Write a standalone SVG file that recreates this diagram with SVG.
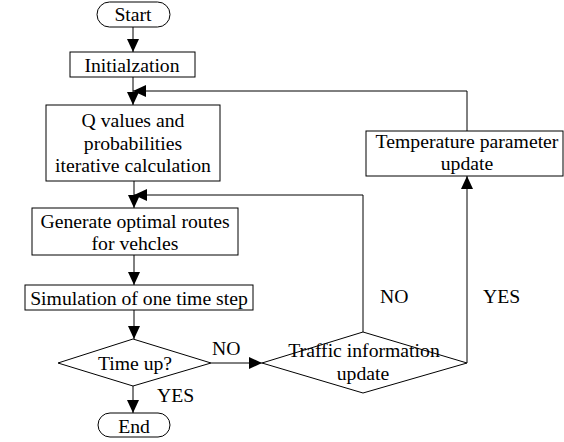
<svg xmlns="http://www.w3.org/2000/svg" width="564" height="442" viewBox="0 0 564 442">
  <style>
    .box { fill: #fff; stroke: #000; stroke-width: 1; }
    .link { fill: none; stroke: #000; stroke-width: 1; }
    text { font-family: 'Liberation Serif', 'Times New Roman', serif; font-size: 19.7px; fill: #000; text-anchor: middle; }
    text.lbl { text-anchor: start; }
  </style>
  <defs>
    <marker id="arrow" viewBox="0 0 13 12" refX="13" refY="6" markerWidth="13" markerHeight="12" markerUnits="userSpaceOnUse" orient="auto">
      <path d="M0,0 L13,6 L0,12 Z" fill="#000"/>
    </marker>
  </defs>
  <rect width="564" height="442" fill="#fff"/>

  <!-- flow lines -->
  <g id="connectors">
    <line class="link" x1="133" y1="27" x2="133" y2="52" marker-end="url(#arrow)"/>
    <line class="link" x1="133" y1="77" x2="133" y2="105" marker-end="url(#arrow)"/>
    <line class="link" x1="134" y1="181" x2="134" y2="208" marker-end="url(#arrow)"/>
    <line class="link" x1="134" y1="255" x2="134" y2="285" marker-end="url(#arrow)"/>
    <line class="link" x1="134" y1="310" x2="134" y2="339" marker-end="url(#arrow)"/>
    <line class="link" x1="133" y1="386" x2="133" y2="413" marker-end="url(#arrow)"/>
    <line class="link" x1="211" y1="363" x2="262" y2="363" marker-end="url(#arrow)"/>
    <path class="link" d="M363,332 V195 H134" marker-end="url(#arrow)"/>
    <line class="link" x1="467" y1="363" x2="467" y2="176" marker-end="url(#arrow)"/>
    <path class="link" d="M467,131 V91 H133" marker-end="url(#arrow)"/>
    <text class="lbl" x="212" y="355">NO</text>
    <text class="lbl" x="157" y="402">YES</text>
    <text class="lbl" x="380" y="303">NO</text>
    <text class="lbl" x="483" y="303">YES</text>
  </g>

  <g id="start">
    <rect class="box" x="97" y="2" width="73" height="25" rx="12.5"/>
    <text x="133" y="21">Start</text>
  </g>
  <g id="init">
    <rect class="box" x="70" y="52" width="125" height="25"/>
    <text x="132" y="72">Initialzation</text>
  </g>
  <g id="q-values">
    <rect class="box" x="46" y="105" width="174" height="76"/>
    <text x="133" y="127">Q values and</text>
    <text x="133" y="150">probabilities</text>
    <text x="133" y="172">iterative calculation</text>
  </g>
  <g id="routes">
    <rect class="box" x="32" y="208" width="206" height="47"/>
    <text x="135" y="228">Generate optimal routes</text>
    <text x="135" y="250">for vehcles</text>
  </g>
  <g id="simulation">
    <rect class="box" x="25" y="285" width="228" height="25"/>
    <text x="139" y="305">Simulation of one time step</text>
  </g>
  <g id="time-up">
    <polygon class="box" points="58,363 133,339 211,363 133,386"/>
    <text x="135" y="370">Time up?</text>
  </g>
  <g id="end">
    <rect class="box" x="98" y="413" width="72" height="24" rx="12"/>
    <text x="134" y="433">End</text>
  </g>
  <g id="traffic">
    <polygon class="box" points="262,363 363,332 467,363 363,393"/>
    <text x="364" y="357">Traffic information</text>
    <text x="363" y="380">update</text>
  </g>
  <g id="temperature">
    <rect class="box" x="366" y="131" width="197" height="45"/>
    <text x="467" y="148">Temperature parameter</text>
    <text x="467" y="170">update</text>
  </g>
</svg>
